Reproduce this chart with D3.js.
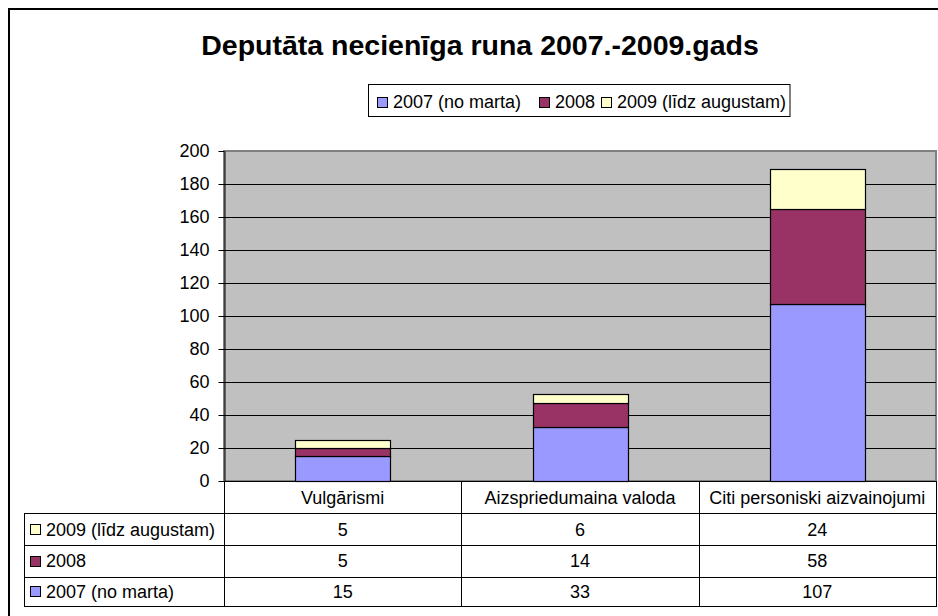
<!DOCTYPE html>
<html>
<head>
<meta charset="utf-8">
<script src="https://cdn.jsdelivr.net/npm/d3@7"></script>
<style>
  html, body { margin: 0; padding: 0; background: #fff; }
  svg { display: block; }
  text { font-family: "Liberation Sans", Arial, sans-serif; fill: #000; }
</style>
</head>
<body>
<svg id="chart" width="938" height="616"></svg>
<script>
const titleText = "Deputāta necienīga runa 2007.-2009.gads";
const categories = ["Vulgārismi", "Aizspriedumaina valoda", "Citi personiski aizvainojumi"];
const seriesNames = ["2007 (no marta)", "2008", "2009 (līdz augustam)"];
const values2007 = [15, 33, 107];
const values2008 = [5, 14, 58];
const values2009 = [5, 6, 24];
const seriesColors = ["#9999FF", "#993366", "#FFFFCC"];
const yTicks = [0, 20, 40, 60, 80, 100, 120, 140, 160, 180, 200];

const seriesValues = [values2007, values2008, values2009];
const rows = categories.map((c, i) => {
  const r = { category: c };
  seriesNames.forEach((s, k) => r[s] = seriesValues[k][i]);
  return r;
});

const svg = d3.select("#chart");

// outer chart border (extends beyond window on right/bottom)
svg.append("rect").attr("x", 9).attr("y", 9).attr("width", 1000).attr("height", 700)
  .attr("fill", "#fff").attr("stroke", "#000").attr("stroke-width", 2);

const plotL = 224, plotR = 936, plotT = 151, plotB = 481;

const y = d3.scaleLinear().domain([0, 200]).range([plotB, plotT]);
const xCol = d3.scaleBand().domain(categories).range([plotL, plotR]).padding(0);
const xBar = d3.scaleBand().domain(categories).range([plotL, plotR]).paddingInner(0.6).paddingOuter(0.3);

// title
svg.append("text").attr("x", 480).attr("y", 55).attr("text-anchor", "middle")
  .attr("font-size", 28.5).attr("font-weight", "bold").text(titleText);

// legend
const legG = svg.append("g");
legG.append("rect").attr("x", 368.5).attr("y", 84.5).attr("width", 421.5).attr("height", 32)
  .attr("fill", "#fff").attr("stroke", "#000").attr("stroke-width", 1);
const legX = [377, 539, 601];
seriesNames.forEach((s, k) => {
  legG.append("rect").attr("x", legX[k] + 0.5).attr("y", 97.5).attr("width", 10).attr("height", 10)
    .attr("fill", seriesColors[k]).attr("stroke", "#000").attr("stroke-width", 1);
  legG.append("text").attr("x", legX[k] + 16).attr("y", 108).attr("font-size", 18).text(s);
});

// plot area
svg.append("rect").attr("x", plotL).attr("y", plotT).attr("width", plotR - plotL).attr("height", plotB - plotT)
  .attr("fill", "#C0C0C0").attr("stroke", "#808080").attr("stroke-width", 2);

// gridlines
svg.append("g").selectAll("line").data(yTicks.filter(t => t > 0 && t < 200)).join("line")
  .attr("x1", plotL).attr("x2", plotR)
  .attr("y1", d => Math.round(y(d)) + 0.5).attr("y2", d => Math.round(y(d)) + 0.5)
  .attr("stroke", "#000").attr("stroke-width", 1);

// stacked bars
const stack = d3.stack().keys(seriesNames);
const stacked = stack(rows);
svg.append("g").selectAll("g").data(stacked).join("g")
  .attr("fill", (d, k) => seriesColors[k])
  .selectAll("rect").data(d => d).join("rect")
  .attr("x", d => Math.round(xBar(d.data.category)) + 0.5)
  .attr("y", d => Math.round(y(d[1])) + 0.5)
  .attr("width", Math.round(xBar.bandwidth()))
  .attr("height", d => Math.round(y(d[0])) - Math.round(y(d[1])))
  .attr("stroke", "#000").attr("stroke-width", 1.2);

// y axis
const yAxis = d3.axisLeft(y).tickValues(yTicks).tickSize(6).tickPadding(9).tickSizeOuter(0);
const ax = svg.append("g").attr("transform", `translate(${plotL + 0.5},0)`).call(yAxis);
ax.select(".domain").attr("stroke", "#000");
ax.selectAll(".tick line").attr("stroke", "#000");
ax.selectAll(".tick text").attr("font-size", 18).attr("font-family", "Liberation Sans, Arial, sans-serif")
  .attr("fill", "#000");

// x axis baseline
svg.append("line").attr("x1", plotL).attr("x2", plotR).attr("y1", plotB + 0.5).attr("y2", plotB + 0.5)
  .attr("stroke", "#000").attr("stroke-width", 1);

// data table
const tableL = 24, headerB = 513;
const rowEdges = [513, 545, 576.5, 606];
const tableOrder = [2, 1, 0];
const tg = svg.append("g");
const lineStyle = sel => sel.attr("stroke", "#000").attr("stroke-width", 1).attr("shape-rendering", "crispEdges");

// header verticals
[plotL, ...categories.map(c => xCol(c) + xCol.bandwidth())].forEach(xv => {
  tg.append("line").attr("x1", xv + 0.5).attr("x2", xv + 0.5).attr("y1", plotB).attr("y2", rowEdges[rowEdges.length - 1]).call(lineStyle);
});
// left edge of row labels
tg.append("line").attr("x1", tableL + 0.5).attr("x2", tableL + 0.5).attr("y1", headerB).attr("y2", rowEdges[3]).call(lineStyle);
// horizontals
rowEdges.forEach(yv => {
  tg.append("line").attr("x1", tableL).attr("x2", plotR + 1).attr("y1", Math.round(yv) + 0.5).attr("y2", Math.round(yv) + 0.5).call(lineStyle);
});
// headers
categories.forEach(c => {
  tg.append("text").attr("x", xCol(c) + xCol.bandwidth() / 2).attr("y", (plotB + headerB) / 2 + 6.5)
    .attr("text-anchor", "middle").attr("font-size", 18).text(c);
});
// rows
tableOrder.forEach((k, r) => {
  const cy = (rowEdges[r] + rowEdges[r + 1]) / 2;
  tg.append("rect").attr("x", 30.5).attr("y", Math.round(cy - 5) + 0.5).attr("width", 10).attr("height", 10)
    .attr("fill", seriesColors[k]).attr("stroke", "#000").attr("stroke-width", 1);
  tg.append("text").attr("x", 46).attr("y", cy + 6.5).attr("font-size", 18).text(seriesNames[k]);
  categories.forEach((c, i) => {
    tg.append("text").attr("x", xCol(c) + xCol.bandwidth() / 2).attr("y", cy + 6.5)
      .attr("text-anchor", "middle").attr("font-size", 18).text(seriesValues[k][i]);
  });
});
</script>
</body>
</html>
